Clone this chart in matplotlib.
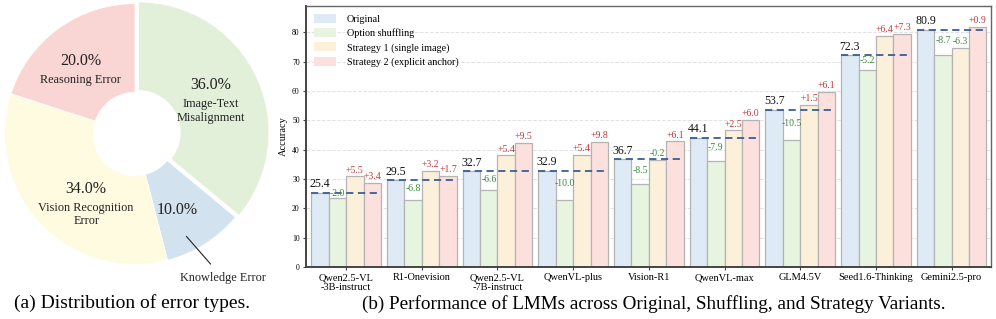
import numpy as np
import matplotlib
matplotlib.use("Agg")
import matplotlib.pyplot as plt

plt.rcParams["font.family"] = "serif"
plt.rcParams["font.serif"] = ["Liberation Serif", "DejaVu Serif"]

# ---- pie data ----
err_labels = ["Image-Text\nMisalignment", "Knowledge Error", "Vision Recognition\nError", "Reasoning Error"]
err_share = [36.0, 10.0, 34.0, 20.0]
err_colors = ["#e2f0da", "#d2e2ef", "#fefbe1", "#f9d5d3"]

# ---- bar data ----
models = ["Qwen2.5-VL\n-3B-instruct", "R1-Onevision", "Qwen2.5-VL\n-7B-instruct", "QwenVL-plus",
          "Vision-R1", "QwenVL-max", "GLM4.5V", "Seed1.6-Thinking", "Gemini2.5-pro"]
original = [25.4, 29.5, 32.7, 32.9, 36.7, 44.1, 53.7, 72.3, 80.9]
d_shuffle = [-2.0, -6.8, -6.6, -10.0, -8.5, -7.9, -10.5, -5.2, -8.7]
d_strat1 = [5.5, 3.2, 5.4, 5.4, -0.2, 2.5, 1.5, 6.4, -6.3]
d_strat2 = [3.4, 1.7, 9.5, 9.8, 6.1, 6.0, 6.1, 7.3, 0.9]
series_names = ["Original", "Option shuffling", "Strategy 1 (single image)", "Strategy 2 (explicit anchor)"]
bar_colors = ["#deeaf5", "#e7f4e0", "#fdf0db", "#fce0de"]

fig = plt.figure(figsize=(9.96, 3.19), dpi=100)

# ---------------- (a) pie ----------------
axp = fig.add_axes([2 / 996, 52 / 319, 266 / 996, 266 / 319])
wedges, _ = axp.pie(err_share, colors=err_colors, startangle=90, counterclock=False,
                    explode=[0.03, 0, 0, 0], radius=1.0,
                    wedgeprops=dict(width=0.68, edgecolor="white", linewidth=0.6))
axp.set_xlim(-1.02, 1.02)
axp.set_ylim(-1.02, 1.02)
axp.set_aspect("equal")
axp.axis("off")

# label radius / angle nudge per wedge
label_r = [0.64, 0.66, 0.64, 0.62]
label_da = [0, -3, 11, 6]
for i, w in enumerate(wedges):
    ang = np.deg2rad((w.theta1 + w.theta2) / 2 + label_da[i])
    x, y = label_r[i] * np.cos(ang), label_r[i] * np.sin(ang)
    if i == 1:
        axp.text(x, y - 0.01, f"{err_share[i]:.1f}%", ha="center", va="center", fontsize=11.5, color="#222")
        axp.annotate(err_labels[i], xy=(x + 0.07, y - 0.21), xytext=(x + 0.35, y - 0.53),
                     ha="center", va="center", fontsize=8.8, color="#222",
                     arrowprops=dict(arrowstyle="-", color="#222", lw=0.8,
                                     shrinkA=5, shrinkB=0))
    else:
        axp.text(x, y + 0.1, f"{err_share[i]:.1f}%", ha="center", va="center", fontsize=11.5, color="#222")
        axp.text(x, y + 0.0, err_labels[i], ha="center", va="top", fontsize=8.8,
                 color="#222", linespacing=1.15)

fig.text(132 / 996, 1 - 303 / 319, "(a) Distribution of error types.", ha="center", va="center", fontsize=14)

# ---------------- (b) bars ----------------
ax = fig.add_axes([306 / 996, 52 / 319, 685 / 996, 261 / 319])
orig = np.array(original)
vals = [orig, orig + np.array(d_shuffle), orig + np.array(d_strat1), orig + np.array(d_strat2)]
x = np.arange(len(models))
w = 0.23
offs = [-1.5, -0.5, 0.5, 1.5]
for k in range(4):
    ax.bar(x + offs[k] * w, vals[k], w, color=bar_colors[k], edgecolor="#b4b4b4",
           linewidth=0.9, label=series_names[k], zorder=2)

red, green = "#c0393b", "#3a8a3f"
for i in range(len(models)):
    ax.hlines(orig[i], x[i] - 2 * w, x[i] + 2 * w, colors="#3c5d95", linestyles=(0, (4, 2.5)),
              linewidth=1.3, zorder=3)
    ax.text(x[i] - 1.5 * w, orig[i] + 0.8, f"{orig[i]:.1f}", ha="center", va="bottom",
            fontsize=8.5, color="#111")
    deltas = [d_shuffle[i], d_strat1[i], d_strat2[i]]
    for k, d in enumerate(deltas, start=1):
        c = red if d > 0 else green
        if k == 1:
            ax.text(x[i] + offs[k] * w, orig[i] + d / 2 + 0.6, f"{d:+.1f}", ha="center", va="center",
                    fontsize=7, color=c)
        else:
            ax.text(x[i] + offs[k] * w, vals[k][i] + 0.6, f"{d:+.1f}", ha="center", va="bottom",
                    fontsize=7, color=c)

ax.set_xlim(-0.53, len(models) - 0.48)
ax.set_ylim(0, 89)
ax.set_yticks(range(0, 90, 10))
ax.tick_params(axis="y", labelsize=5.5, length=2.5, width=0.8, pad=2, color="#444")
ax.tick_params(axis="x", labelsize=7.5, length=2.5, width=0.8, pad=2, color="#444")
ax.set_xticks(x)
ax.set_xticklabels(models, linespacing=1.1)
ax.set_ylabel("Accuracy", fontsize=7.5, labelpad=3)
ax.grid(axis="y", linestyle="--", color="#e2e2e2", linewidth=0.7, zorder=0)
ax.set_axisbelow(True)
for s in ax.spines.values():
    s.set_color("#666")
    s.set_linewidth(1.0)
ax.spines["left"].set_linewidth(1.4)
ax.spines["bottom"].set_linewidth(1.4)
ax.spines["left"].set_color("#444")
ax.spines["bottom"].set_color("#444")

leg = ax.legend(loc="upper left", frameon=False, fontsize=7.3, handlelength=2.2, handleheight=1.0,
                labelspacing=0.4, borderaxespad=0.4, handletextpad=1.0)
for p in leg.get_patches():
    p.set_edgecolor("none")

fig.text(654 / 996, 1 - 304 / 319,
         "(b) Performance of LMMs across Original, Shuffling, and Strategy Variants.",
         ha="center", va="center", fontsize=13.8)

fig.savefig("out.png", dpi=100)
